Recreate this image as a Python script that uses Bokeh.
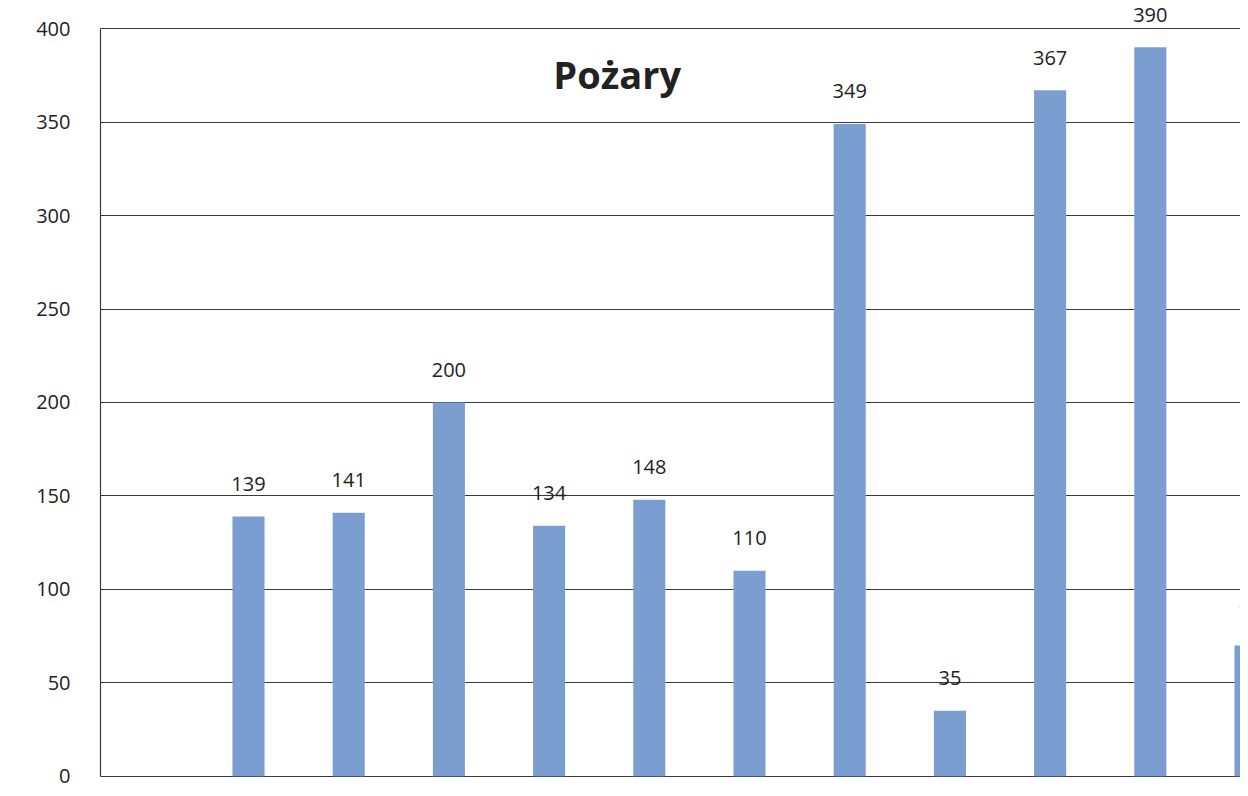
import numpy as np
from bokeh.plotting import figure
from bokeh.models import ColumnDataSource, Range1d, Label, FixedTicker, LabelSet
from bokeh.core.properties import value
from bokeh.embed import file_html
from bokeh.resources import INLINE

# data
title_text = "Pożary"
positions = [1, 2, 3, 4, 5, 6, 7, 8, 9, 10, 11]
values = [139, 141, 200, 134, 148, 110, 349, 35, 367, 390, 70]
y_ticks = [0, 50, 100, 150, 200, 250, 300, 350, 400]

vals = np.array(values, dtype=float)
label_y = vals + 17.5
src = ColumnDataSource(dict(x=positions, top=values, ly=label_y,
                            txt=[str(v) for v in values]))

p = figure(width=1240, height=788, output_backend="svg", toolbar_location=None,
           x_range=Range1d(-0.477, 10.90), y_range=Range1d(-1.2, 414),
           min_border_left=100, min_border_top=2, min_border_bottom=10,
           min_border_right=0)

p.vbar(x="x", top="top", bottom=0, width=0.32, source=src,
       fill_color="#7B9ED1", line_color=None)

labels = LabelSet(x="x", y="ly", text="txt", source=src, text_align="center",
                  text_baseline="middle", text_font=value("Open Sans"),
                  text_font_size="20px", text_color="#222222")
p.add_layout(labels)

p.add_layout(Label(x=4.68, y=376, text=title_text, text_align="center",
                   text_baseline="middle", text_font="Open Sans",
                   text_font_style="bold", text_font_size="38px",
                   text_color="#222222"))

p.xaxis.visible = False
p.xgrid.grid_line_color = None
p.ygrid.ticker = FixedTicker(ticks=y_ticks)
p.ygrid.grid_line_color = "#3a3a3a"
p.ygrid.grid_line_width = 1.2
p.yaxis.ticker = FixedTicker(ticks=y_ticks)
p.yaxis.bounds = (0, 400)
p.yaxis.axis_line_color = "#3a3a3a"
p.yaxis.axis_line_width = 1.2
p.yaxis.major_tick_line_color = None
p.yaxis.minor_tick_line_color = None
p.yaxis.major_label_text_font = "Open Sans"
p.yaxis.major_label_text_font_size = "20px"
p.yaxis.major_label_text_color = "#222222"
p.yaxis.major_label_standoff = 24
p.outline_line_color = None
p.background_fill_color = "white"
p.border_fill_color = "white"

open("out.html", "w").write(file_html(p, INLINE))
